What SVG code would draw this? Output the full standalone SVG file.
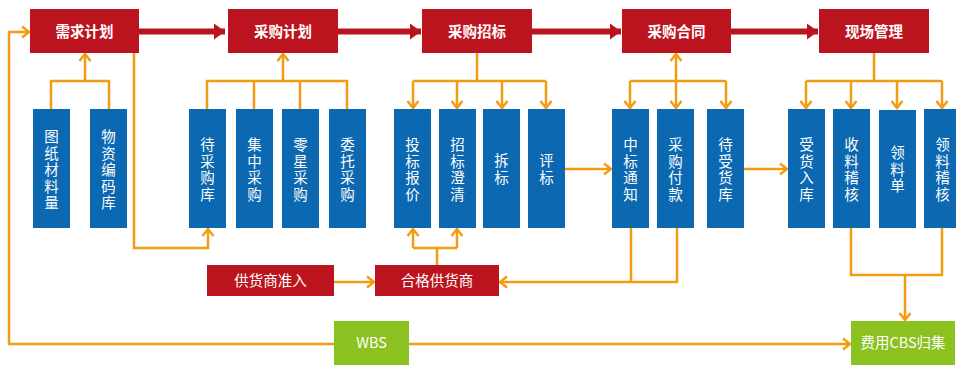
<svg xmlns="http://www.w3.org/2000/svg" width="956" height="368" viewBox="0 0 956 368">
<style>
.red{fill:#BC141E}
.blue{fill:#0B68B1}
.green{fill:#8CC21F}
.rt{font-family:"Noto Sans CJK SC","Liberation Sans",sans-serif;font-size:14.5px;font-weight:bold;fill:#fff;text-anchor:middle}
.bt{font-family:"Liberation Sans","Noto Sans CJK SC",sans-serif;font-size:14.5px;fill:#fff;text-anchor:middle}
.gt{font-family:"Noto Sans CJK SC","Liberation Sans",sans-serif;font-size:14.5px;fill:#fff;text-anchor:middle}
.o{fill:none;stroke:#F39C12;stroke-width:2.5}
.oa{fill:none;stroke:#F39C12;stroke-width:2.5;marker-end:url(#ah)}
.ra{stroke:#BC141E;stroke-width:6;marker-end:url(#rh)}
</style>
<defs>
<marker id="ah" markerUnits="userSpaceOnUse" markerWidth="12" markerHeight="14" refX="9" refY="7" orient="auto">
<path d="M2,1.5 L9,7 L2,12.5" fill="none" stroke="#F39C12" stroke-width="2.5"/>
</marker>
<marker id="rh" markerUnits="userSpaceOnUse" markerWidth="12" markerHeight="16" refX="11" refY="8" orient="auto">
<path d="M0,0 L11,8 L0,16 z" fill="#BC141E"/>
</marker>
</defs>

<g id="connectors">
<line class="ra" x1="139" y1="31.5" x2="225" y2="31.5"/>
<line class="ra" x1="338" y1="31.5" x2="421" y2="31.5"/>
<line class="ra" x1="532" y1="31.5" x2="621" y2="31.5"/>
<line class="ra" x1="731" y1="31.5" x2="818" y2="31.5"/>

<path class="o" d="M51,109 V81 H109 V109"/>
<path class="oa" d="M85,81 V54"/>
<path class="oa" d="M134,53 V248 H208 V229"/>

<path class="o" d="M207,109 V81 H347 V109 M254,81 V109 M300,81 V109"/>
<path class="oa" d="M283,81 V54"/>

<path class="o" d="M477,53 V81 M413,81 H546"/>
<path class="oa" d="M413,81 V108"/>
<path class="oa" d="M457,81 V108"/>
<path class="oa" d="M502,81 V108"/>
<path class="oa" d="M546,81 V108"/>

<path class="o" d="M630,81 H726"/>
<path class="oa" d="M676,81 V54"/>
<path class="oa" d="M676,81 V108"/>
<path class="oa" d="M630,81 V108"/>
<path class="oa" d="M726,81 V108"/>

<path class="o" d="M874,53 V81 M806,81 H942"/>
<path class="oa" d="M806,81 V108"/>
<path class="oa" d="M851,81 V108"/>
<path class="oa" d="M897,81 V108"/>
<path class="oa" d="M942,81 V108"/>

<path class="oa" d="M565,169 H611"/>
<path class="oa" d="M743,169 H787"/>

<path class="o" d="M413,248 H457 M437,265 V248"/>
<path class="oa" d="M413,248 V229"/>
<path class="oa" d="M457,248 V229"/>

<path class="oa" d="M334,282 H374"/>
<path class="o" d="M631,228 V282"/>
<path class="oa" d="M677,228 V282 H500"/>

<path class="o" d="M851,228 V275 H942 V228"/>
<path class="oa" d="M905,275 V320"/>

<path class="oa" d="M409,344 H850"/>
<path class="oa" d="M334,344 H9 V32 H29"/>
</g>

<g id="n-xuqiu"><rect class="red" x="30" y="9" width="109" height="44"/><text class="rt" x="84.5" y="36.5">需求计划</text></g>
<g id="n-caigoujihua"><rect class="red" x="228" y="9" width="110" height="44"/><text class="rt" x="283" y="36.5">采购计划</text></g>
<g id="n-zhaobiao"><rect class="red" x="422" y="9" width="110" height="44"/><text class="rt" x="477" y="36.5">采购招标</text></g>
<g id="n-hetong"><rect class="red" x="622" y="9" width="109" height="44"/><text class="rt" x="676.5" y="36.5">采购合同</text></g>
<g id="n-xianchang"><rect class="red" x="819" y="9" width="110" height="44"/><text class="rt" x="874" y="36.5">现场管理</text></g>

<g id="n-tuzhi"><rect class="blue" x="33" y="109" width="37" height="119"/><text class="bt"><tspan x="51.5" y="142">图</tspan><tspan x="51.5" y="158.5">纸</tspan><tspan x="51.5" y="175">材</tspan><tspan x="51.5" y="191.5">料</tspan><tspan x="51.5" y="208">量</tspan></text></g>
<g id="n-wuzi"><rect class="blue" x="90" y="109" width="37" height="119"/><text class="bt"><tspan x="108.5" y="142">物</tspan><tspan x="108.5" y="158.5">资</tspan><tspan x="108.5" y="175">编</tspan><tspan x="108.5" y="191.5">码</tspan><tspan x="108.5" y="208">库</tspan></text></g>

<g id="n-daicaigou"><rect class="blue" x="189" y="109" width="37" height="119"/><text class="bt"><tspan x="207.5" y="150">待</tspan><tspan x="207.5" y="166.5">采</tspan><tspan x="207.5" y="183">购</tspan><tspan x="207.5" y="199.5">库</tspan></text></g>
<g id="n-jizhong"><rect class="blue" x="236" y="109" width="37" height="119"/><text class="bt"><tspan x="254.5" y="150">集</tspan><tspan x="254.5" y="166.5">中</tspan><tspan x="254.5" y="183">采</tspan><tspan x="254.5" y="199.5">购</tspan></text></g>
<g id="n-lingxing"><rect class="blue" x="282" y="109" width="37" height="119"/><text class="bt"><tspan x="300.5" y="150">零</tspan><tspan x="300.5" y="166.5">星</tspan><tspan x="300.5" y="183">采</tspan><tspan x="300.5" y="199.5">购</tspan></text></g>
<g id="n-weituo"><rect class="blue" x="329" y="109" width="37" height="119"/><text class="bt"><tspan x="347.5" y="150">委</tspan><tspan x="347.5" y="166.5">托</tspan><tspan x="347.5" y="183">采</tspan><tspan x="347.5" y="199.5">购</tspan></text></g>

<g id="n-toubiao"><rect class="blue" x="394" y="109" width="37" height="119"/><text class="bt"><tspan x="412.5" y="150">投</tspan><tspan x="412.5" y="166.5">标</tspan><tspan x="412.5" y="183">报</tspan><tspan x="412.5" y="199.5">价</tspan></text></g>
<g id="n-chengqing"><rect class="blue" x="439" y="109" width="37" height="119"/><text class="bt"><tspan x="457.5" y="150">招</tspan><tspan x="457.5" y="166.5">标</tspan><tspan x="457.5" y="183">澄</tspan><tspan x="457.5" y="199.5">清</tspan></text></g>
<g id="n-chaibiao"><rect class="blue" x="483" y="109" width="37" height="119"/><text class="bt"><tspan x="501.5" y="166">拆</tspan><tspan x="501.5" y="182.5">标</tspan></text></g>
<g id="n-pingbiao"><rect class="blue" x="528" y="109" width="37" height="119"/><text class="bt"><tspan x="546.5" y="166">评</tspan><tspan x="546.5" y="182.5">标</tspan></text></g>

<g id="n-zhongbiao"><rect class="blue" x="612" y="109" width="37" height="119"/><text class="bt"><tspan x="630.5" y="150">中</tspan><tspan x="630.5" y="166.5">标</tspan><tspan x="630.5" y="183">通</tspan><tspan x="630.5" y="199.5">知</tspan></text></g>
<g id="n-fukuan"><rect class="blue" x="657" y="109" width="37" height="119"/><text class="bt"><tspan x="675.5" y="150">采</tspan><tspan x="675.5" y="166.5">购</tspan><tspan x="675.5" y="183">付</tspan><tspan x="675.5" y="199.5">款</tspan></text></g>
<g id="n-daishouhuo"><rect class="blue" x="707" y="109" width="37" height="119"/><text class="bt"><tspan x="725.5" y="150">待</tspan><tspan x="725.5" y="166.5">受</tspan><tspan x="725.5" y="183">货</tspan><tspan x="725.5" y="199.5">库</tspan></text></g>

<g id="n-shouhuo"><rect class="blue" x="788" y="109" width="37" height="119"/><text class="bt"><tspan x="806.5" y="150">受</tspan><tspan x="806.5" y="166.5">货</tspan><tspan x="806.5" y="183">入</tspan><tspan x="806.5" y="199.5">库</tspan></text></g>
<g id="n-shouliao"><rect class="blue" x="833" y="109" width="37" height="119"/><text class="bt"><tspan x="851.5" y="150">收</tspan><tspan x="851.5" y="166.5">料</tspan><tspan x="851.5" y="183">稽</tspan><tspan x="851.5" y="199.5">核</tspan></text></g>
<g id="n-lingliaodan"><rect class="blue" x="879" y="110" width="37" height="118"/><text class="bt"><tspan x="897.5" y="158">领</tspan><tspan x="897.5" y="174.5">料</tspan><tspan x="897.5" y="191">单</tspan></text></g>
<g id="n-lingliaojihe"><rect class="blue" x="924" y="109" width="37" height="119"/><text class="bt"><tspan x="942.5" y="150">领</tspan><tspan x="942.5" y="166.5">料</tspan><tspan x="942.5" y="183">稽</tspan><tspan x="942.5" y="199.5">核</tspan></text></g>

<g id="n-zhunru"><rect class="red" x="207" y="265" width="127" height="31"/><text class="gt" x="270.5" y="286">供货商准入</text></g>
<g id="n-hege"><rect class="red" x="375" y="265" width="124" height="31"/><text class="gt" x="437" y="286">合格供货商</text></g>

<g id="n-wbs"><rect class="green" x="334" y="321" width="75" height="44"/><text class="gt" x="371.5" y="348">WBS</text></g>
<g id="n-cbs"><rect class="green" x="851" y="321" width="104" height="44"/><text class="gt" x="903" y="348">费用CBS归集</text></g>
</svg>
